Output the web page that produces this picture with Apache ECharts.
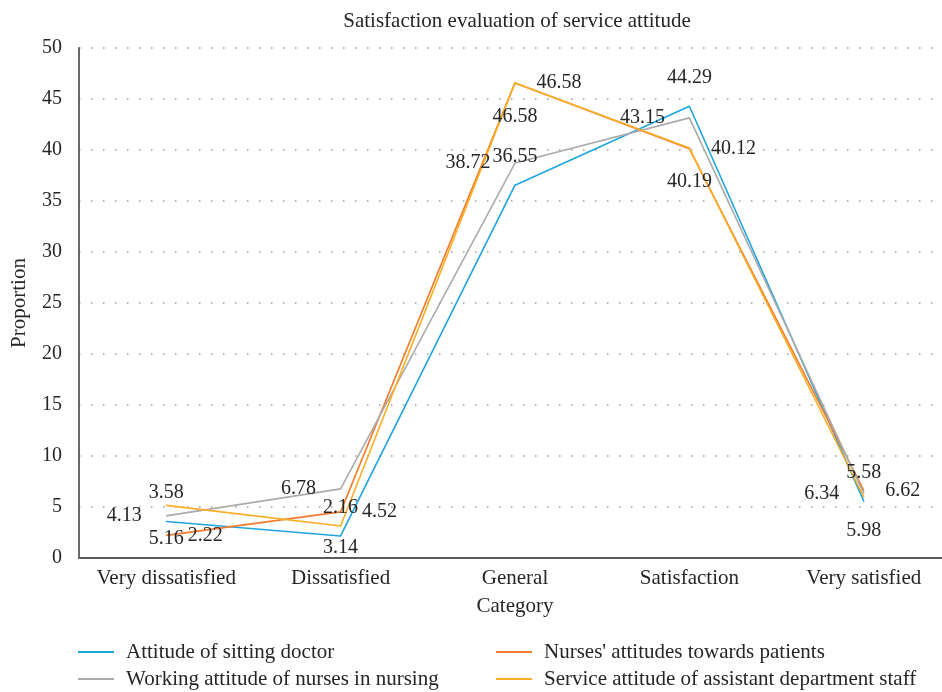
<!DOCTYPE html>
<html>
<head>
<meta charset="utf-8">
<script src="https://cdn.jsdelivr.net/npm/echarts@6/dist/echarts.min.js"></script>
<style>
  html, body { margin: 0; padding: 0; background: #fff; }
  #chart { width: 942px; height: 692px; }
</style>
</head>
<body>
<div id="chart"></div>
<script>
// Rating categories along the x axis
const categories = ['Very dissatisfied', 'Dissatisfied', 'General', 'Satisfaction', 'Very satisfied'];

// Share of respondents (%) for each aspect of service attitude
const sittingDoctor    = [3.58, 2.16, 36.55, 44.29, 5.58];
const nursesToPatients = [2.22, 4.52, 46.58, 40.12, 6.62];
const nursesInNursing  = [4.13, 6.78, 38.72, 43.15, 6.34];
const assistantStaff   = [5.16, 3.14, 46.58, 40.19, 5.98];

const seriesNames = [
  'Attitude of sitting doctor',
  "Nurses' attitudes towards patients",
  'Working attitude of nurses in nursing',
  'Service attitude of assistant department staff'
];

const yTicks = { min: 0, max: 50, interval: 5 };

const FONT = 'Liberation Serif';
const TEXT = '#262626';
const AXIS = '#5a5a5a';
const colors = ['#1ea5e0', '#f47b2b', '#ababab', '#fbad24'];

// labelTweaks: optional {index: distance} to pull a label closer to its point
function lineSeries(name, data, color, pos, dist, labelTweaks) {
  const tweaks = labelTweaks || {};
  return {
    name: name,
    type: 'line',
    data: data.map(function (v, i) {
      return (i in tweaks) ? { value: v, label: { distance: tweaks[i] } } : v;
    }),
    symbol: 'circle',
    symbolSize: 1,
    showSymbol: true,
    itemStyle: { color: color },
    lineStyle: { color: color, width: 1.6 },
    label: {
      show: true,
      position: pos,
      distance: dist,
      color: TEXT,
      fontFamily: FONT,
      fontSize: 20
    },
    emphasis: { disabled: true },
    animation: false
  };
}

function legendAt(name, left, top) {
  return {
    data: [name],
    left: left,
    top: top,
    icon: 'rect',
    itemWidth: 36,
    itemHeight: 2,
    padding: 0,
    selectedMode: false,
    textStyle: { fontFamily: FONT, fontSize: 21, color: TEXT, lineHeight: 22, padding: [0, 0, 0, 7] }
  };
}

const chart = echarts.init(document.getElementById('chart'), null, { renderer: 'canvas' });

chart.setOption({
  backgroundColor: '#ffffff',
  animation: false,
  title: {
    text: 'Satisfaction evaluation of service attitude',
    left: 512,
    textAlign: 'center',
    top: 6,
    textStyle: { fontFamily: FONT, fontSize: 21, fontWeight: 'normal', color: TEXT }
  },
  legend: [
    legendAt(seriesNames[0], 78, 641),
    legendAt(seriesNames[1], 496, 641),
    legendAt(seriesNames[2], 78, 668),
    legendAt(seriesNames[3], 496, 668)
  ],
  grid: { left: 79, top: 48, width: 872, height: 510, containLabel: false, outerBoundsMode: 'none' },
  xAxis: {
    type: 'category',
    data: categories,
    boundaryGap: true,
    name: 'Category',
    nameLocation: 'middle',
    nameGap: 38,
    nameTextStyle: { fontFamily: FONT, fontSize: 21, color: TEXT },
    axisLine: { show: true, lineStyle: { color: AXIS, width: 1.8 } },
    axisTick: { show: false },
    axisLabel: { interval: 0, fontFamily: FONT, fontSize: 21, color: TEXT, margin: 10 },
    splitLine: { show: false }
  },
  yAxis: {
    type: 'value',
    min: yTicks.min,
    max: yTicks.max,
    interval: yTicks.interval,
    name: 'Proportion',
    nameLocation: 'middle',
    nameGap: 49,
    nameTextStyle: { fontFamily: FONT, fontSize: 21, color: TEXT },
    axisLine: { show: true, lineStyle: { color: AXIS, width: 1.8 } },
    axisTick: { show: false },
    axisLabel: { fontFamily: FONT, fontSize: 20, color: TEXT, margin: 17 },
    splitLine: { show: true, lineStyle: { color: '#9a9a9a', width: 1.5, type: [1.5, 10.5] } }
  },
  series: [
    lineSeries(seriesNames[0], sittingDoctor, colors[0], 'top', 18),
    lineSeries(seriesNames[1], nursesToPatients, colors[1], 'right', 21),
    lineSeries(seriesNames[2], nursesInNursing, colors[2], 'left', 24),
    lineSeries(seriesNames[3], assistantStaff, colors[3], 'bottom', 23, { 1: 11 })
  ]
});
</script>
</body>
</html>
